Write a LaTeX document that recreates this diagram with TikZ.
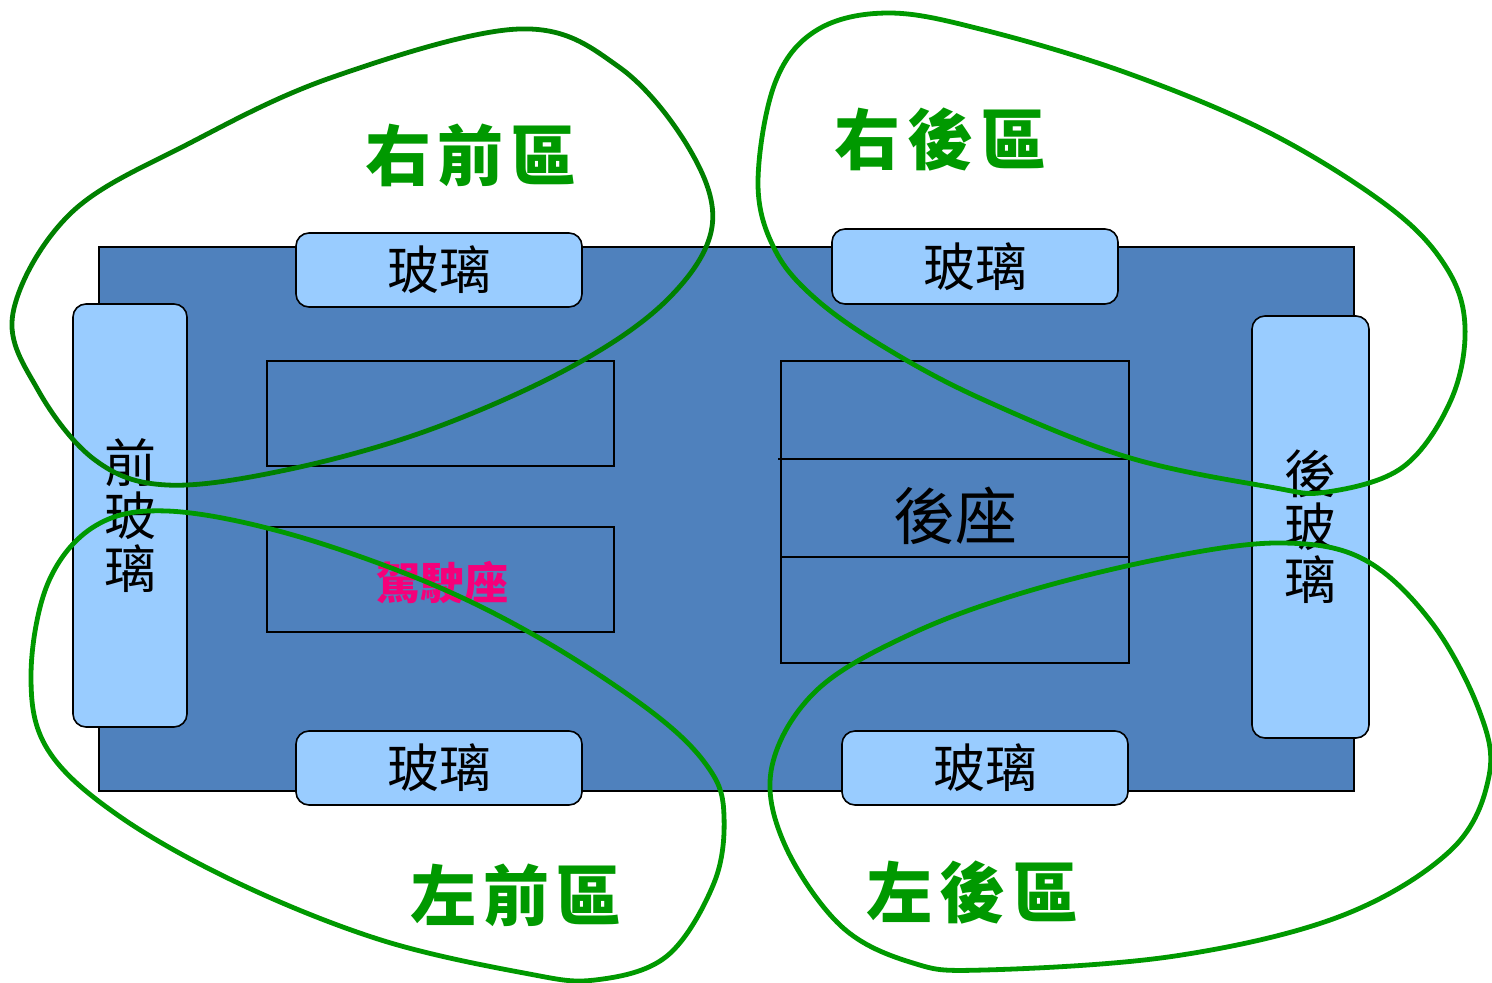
\documentclass[tikz,border=0pt]{standalone}
\usepackage{fontspec}
\newfontfamily\cjk{Noto Sans CJK TC}
\definecolor{bodyblue}{HTML}{4F81BD}
\definecolor{glassblue}{HTML}{99CCFF}
\definecolor{zonegreen}{HTML}{009900}
\definecolor{darkzone}{HTML}{008000}
\definecolor{seatpink}{HTML}{F5007A}
\tikzset{
  carbody/.style={draw=black, line width=2pt, fill=bodyblue},
  glass/.style={draw=black, line width=1.6pt, fill=glassblue, rounded corners=13pt, inner sep=0pt,
    font=\cjk\fontsize{52}{52}\selectfont},
  seat/.style={draw=black, line width=2pt, inner sep=0pt},
  zone/.style={draw=zonegreen, line width=4.8pt},
  zonelabel/.style={text=zonegreen, inner sep=0pt, font=\cjk\bfseries\fontsize{66}{66}\selectfont},
}
\begin{document}
\begin{tikzpicture}[x=1pt,y=-1pt]
\useasboundingbox (0,0) rectangle (1492,983);
% body
\node[carbody, minimum width=1255pt, minimum height=544pt, inner sep=0pt] (body) at (726.5,519) {};
% glasses
\node[glass, minimum width=286pt, minimum height=74pt] (gtl) at (439,270) {玻璃};
\node[glass, minimum width=286pt, minimum height=75pt] (gtr) at (975,266.5) {玻璃};
\node[glass, minimum width=286pt, minimum height=74pt] (gbl) at (439,768) {玻璃};
\node[glass, minimum width=286pt, minimum height=74pt] (gbr) at (985,768) {玻璃};
\node[glass, minimum width=114pt, minimum height=423pt, align=center,
  font=\cjk\fontsize{52}{53}\selectfont] (gfront) at (130,515.5) {前\\玻\\璃};
\node[glass, minimum width=117pt, minimum height=422pt, align=center,
  font=\cjk\fontsize{52}{53}\selectfont] (grear) at (1310.5,527) {後\\玻\\璃};
% seats
\node[seat, minimum width=347pt, minimum height=105pt] (fs1) at (440.5,413.5) {};
\node[seat, minimum width=347pt, minimum height=105pt] (fs2) at (440.5,579.5) {};
\node[text=seatpink, inner sep=0pt, font=\cjk\bfseries\fontsize{44}{44}\selectfont] (driver) at (442,583) {駕駛座};
\node[seat, minimum width=348pt, minimum height=302pt] (rs) at (955,512) {};
\coordinate (rl1) at (778,459);
\coordinate (rl2) at (781,557);
\draw[line width=2pt] (rl1) -- (rl1 -| rs.east);
\draw[line width=2pt] (rl2) -- (rl2 -| rs.east);
\node[inner sep=0pt, font=\cjk\fontsize{62}{62}\selectfont] (rearseat) at (955,516) {後座};
% zone labels
\node[zonelabel] (zfr) at (471,155) {右\hspace{7pt}前\hspace{7pt}區};
\node[zonelabel] (zrr) at (940,140) {右\hspace{7pt}後\hspace{7pt}區};
\node[zonelabel] (zfl) at (516,895) {左\hspace{7pt}前\hspace{7pt}區};
\node[zonelabel] (zrl) at (972,893) {左\hspace{7pt}後\hspace{7pt}區};
% zone loops
\draw[zone, draw=darkzone] plot[smooth cycle, tension=0.6] coordinates {
 (519,29) (333,77) (190,143) (71,213) (13,313) (38,390) (95,460) (167,485)
 (286,470) (429,430) (571,367) (667,300) (712,227) (690,150) (619,67)};
\draw[zone] plot[smooth cycle, tension=0.6] coordinates {
 (889,13) (817,30) (775,83) (758,183) (775,250) (817,300) (889,350) (984,400)
 (1127,457) (1270,487) (1327,492) (1403,467) (1451,400) (1465,327) (1446,267)
 (1389,207) (1270,133) (1127,73) (984,30)};
\draw[zone] plot[smooth cycle, tension=0.6] coordinates {
 (167,511) (95,526) (48,583) (31,676) (48,750) (119,816) (238,883) (381,940)
 (524,973) (595,980) (667,956) (714,883) (724,816) (710,770) (657,716)
 (548,643) (429,583) (286,533)};
\draw[zone] plot[smooth cycle, tension=0.6] coordinates {
 (1284,543) (1175,556) (1032,590) (913,633) (817,690) (772,766) (784,843)
 (841,926) (913,963) (984,970) (1175,956) (1341,916) (1451,850) (1489,776)
 (1479,710) (1432,623) (1365,560)};
\end{tikzpicture}
\end{document}
